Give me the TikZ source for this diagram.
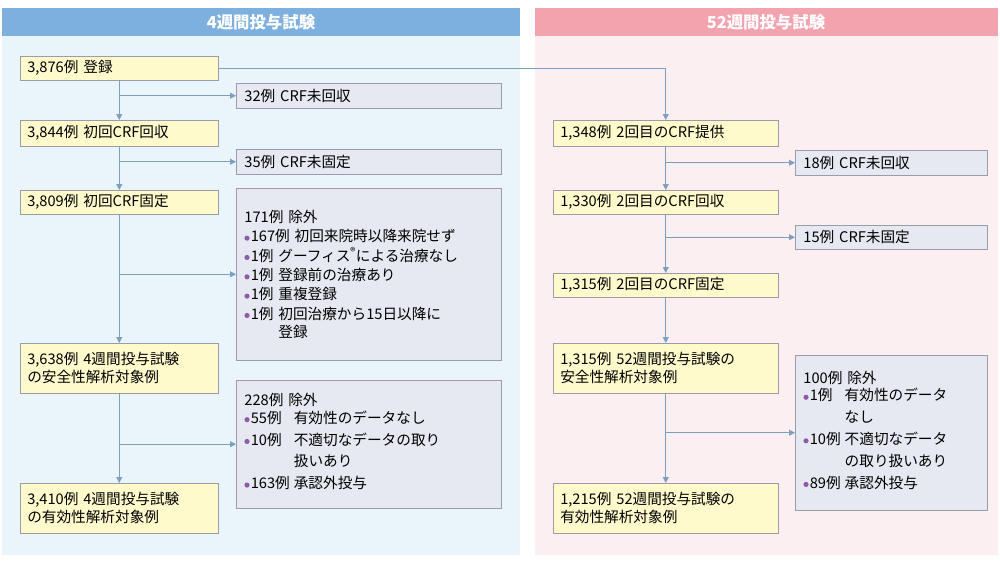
\documentclass[tikz,border=0pt]{standalone}
\usepackage{fontspec}
\setmainfont{Noto Sans CJK JP}
\usetikzlibrary{arrows.meta}
\definecolor{hblue}{HTML}{7DB0DE}
\definecolor{pblue}{HTML}{EAF4FB}
\definecolor{hpink}{HTML}{F2A3AE}
\definecolor{ppink}{HTML}{FCEFF2}
\definecolor{yfill}{HTML}{FFFACC}
\definecolor{gfill}{HTML}{E6E8F2}
\definecolor{bord}{HTML}{9C9CA8}
\definecolor{lin}{HTML}{7F9FBF}
\definecolor{bul}{HTML}{8E5BA8}
\newcommand{\bu}{\tikz[baseline={(0,-0.45ex)}]\fill[bul] (0,0) circle[radius=2.2pt];\hspace{1pt}}
\begin{document}
\begin{tikzpicture}[x=0.03cm,y=-0.03cm,
  every node/.style={font=\fontsize{12.5}{15.5}\selectfont},
  yb/.style={draw=bord,fill=yfill,anchor=north west,align=left,text width=#1,inner xsep=6pt,inner ysep=3pt},
  gb/.style={draw=bord,fill=gfill,anchor=north west,align=left,text width=#1,inner xsep=7pt,inner ysep=3pt},
  arr/.style={draw=lin,line width=0.8pt,-{Triangle[length=5pt,width=5pt]}}]
\useasboundingbox[fill=white] (0,0) rectangle (1000,561);
% panels
\fill[pblue] (2,36) rectangle (520,555);
\fill[hblue] (2,8) rectangle (520,36);
\node[text=white,font=\fontsize{14}{16}\selectfont\bfseries] (h1) at (261,22) {4週間投与試験};
\fill[ppink] (535,36) rectangle (998,555);
\fill[hpink] (535,8) rectangle (998,36);
\node[text=white,font=\fontsize{14}{16}\selectfont\bfseries] (h2) at (766,22) {52週間投与試験};
% left boxes
\node[yb=5.52cm,minimum height=0.72cm] (A) at (20,56) {3,876例 登録};
\node[gb=7.45cm,minimum height=0.75cm] (B) at (236,83) {32例 CRF未回収};
\node[yb=5.52cm,minimum height=0.78cm] (C) at (20,120) {3,844例 初回CRF回収};
\node[gb=7.45cm,minimum height=0.75cm] (D) at (236,149) {35例 CRF未固定};
\node[yb=5.52cm,minimum height=0.72cm] (E) at (20,190) {3,809例 初回CRF固定};
\node[gb=7.45cm,minimum height=5.16cm,anchor=north west] (F) at (236,188) {%
171例 除外\\[1pt]
\bu167例 初回来院時以降来院せず\\[1pt]
\bu1例 グーフィス\textsuperscript{®}による治療なし\\[1pt]
\bu1例 登録前の治療あり\\[1pt]
\bu1例 重複登録\\[1pt]
\bu1例 初回治療から15日以降に\\
\phantom{\bu1例 }登録\\[4pt]};
\node[yb=5.52cm,minimum height=1.5cm] (G) at (20,343) {3,638例 4週間投与試験\\の安全性解析対象例};
\node[gb=7.45cm,minimum height=3.84cm] (H) at (236,380) {%
228例 除外\\[0pt]
{\renewcommand\arraystretch{1.2}\begin{tabular}{@{}l@{\;}l@{}}
\bu55例 & 有効性のデータなし\\
\bu10例 & 不適切なデータの取り\\
 & 扱いあり\\
\bu163例 & 承認外投与
\end{tabular}}};
\node[yb=5.52cm,minimum height=1.5cm] (I) at (20,483) {3,410例 4週間投与試験\\の有効性解析対象例};
% right boxes
\node[yb=6.33cm,minimum height=0.78cm] (J) at (553,120) {1,348例 2回目のCRF提供};
\node[gb=5.27cm,minimum height=0.75cm] (K) at (795,150) {18例 CRF未回収};
\node[yb=6.33cm,minimum height=0.72cm] (L) at (553,190) {1,330例 2回目のCRF回収};
\node[gb=5.27cm,minimum height=0.72cm] (M) at (795,225) {15例 CRF未固定};
\node[yb=6.33cm,minimum height=0.72cm] (N) at (553,273) {1,315例 2回目のCRF固定};
\node[yb=6.33cm,minimum height=1.5cm] (O) at (553,343) {1,315例 52週間投与試験の\\安全性解析対象例};
\node[gb=5.27cm,minimum height=4.65cm] (P) at (795,355) {%
100例 除外\\[0pt]
{\renewcommand\arraystretch{1.2}\begin{tabular}{@{}l@{\;}l@{}}
\bu1例 & 有効性のデータ\\
 & なし\\
\bu10例 & 不適切なデータ\\
 & の取り扱いあり\\
\bu89例 & 承認外投与
\end{tabular}}};
\node[yb=6.33cm,minimum height=1.5cm] (Q) at (553,483) {1,215例 52週間投与試験の\\有効性解析対象例};
% connectors left
\draw[arr] (A.south) -- (C.north);
\draw[arr] (A.south |- B.west) -- (B.west);
\draw[arr] (C.south) -- (E.north);
\draw[arr] (C.south |- D.west) -- (D.west);
\draw[arr] (E.south) -- (G.north);
\draw[arr] (E.south |- F.west) -- (F.west);
\draw[arr] (G.south) -- (I.north);
\draw[arr] (G.south |- H.west) -- (H.west);
\draw[arr] (A.east) -| (J.north);
% connectors right
\draw[arr] (J.south) -- (L.north);
\draw[arr] (J.south |- K.west) -- (K.west);
\draw[arr] (L.south) -- (N.north);
\draw[arr] (L.south |- M.west) -- (M.west);
\draw[arr] (N.south) -- (O.north);
\draw[arr] (O.south) -- (Q.north);
\draw[arr] (O.south |- P.west) -- (P.west);
\end{tikzpicture}
\end{document}
